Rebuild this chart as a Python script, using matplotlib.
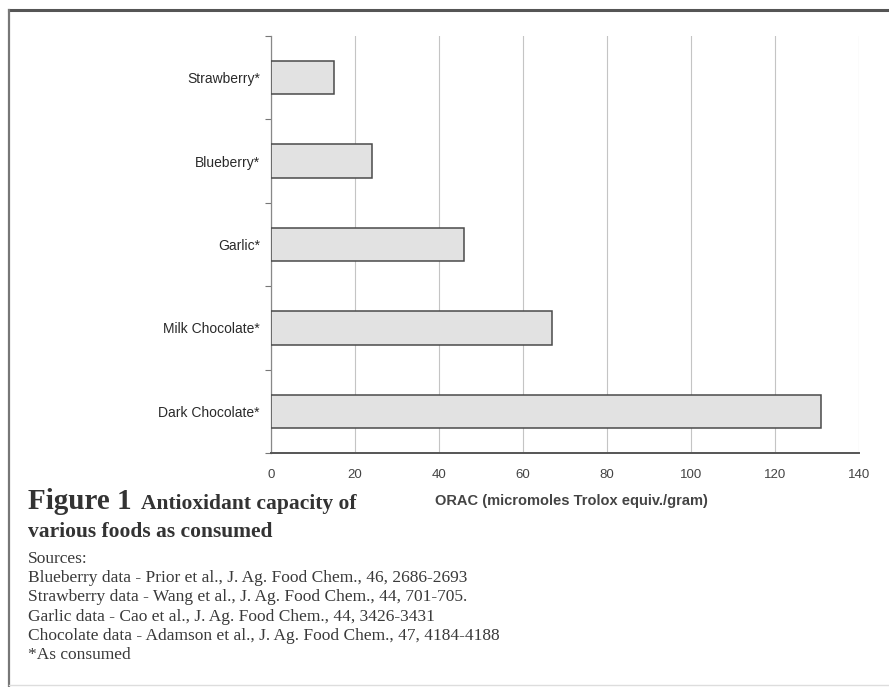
import matplotlib
matplotlib.use("Agg")
import matplotlib.pyplot as plt
import numpy as np

# ORAC per gram of food, as consumed
foods = ["Strawberry*", "Blueberry*", "Garlic*", "Milk Chocolate*", "Dark Chocolate*"]
orac = [15, 24, 46, 67, 131]
xticks = [0, 20, 40, 60, 80, 100, 120, 140]

sources = [
    "Sources:",
    "Blueberry data - Prior et al., J. Ag. Food Chem., 46, 2686-2693",
    "Strawberry data - Wang et al., J. Ag. Food Chem., 44, 701-705.",
    "Garlic data - Cao et al., J. Ag. Food Chem., 44, 3426-3431",
    "Chocolate data - Adamson et al., J. Ag. Food Chem., 47, 4184-4188",
    "*As consumed",
]

W, H = 889, 687
fig = plt.figure(figsize=(W / 100, H / 100), dpi=100)
fig.patch.set_facecolor("white")

ax = fig.add_axes([271 / W, 1 - 453 / H, (859 - 271) / W, (453 - 36) / H])
pos = np.arange(len(foods))
ax.barh(pos, orac, height=0.4, color="#e2e2e2", edgecolor="#4a4a4a", linewidth=1.1, zorder=3)

ax.set_xlim(0, 140)
ax.set_ylim(len(foods) - 0.5, -0.5)
ax.set_xticks(xticks)
ax.set_xticklabels([str(t) for t in xticks], fontsize=9.5, color="#444444", family="Liberation Sans")
ax.tick_params(axis="x", length=0, pad=11.5)
ax.grid(axis="x", color="#c4c4c4", linewidth=0.8, zorder=0)

ax.set_yticks(pos)
ax.set_yticklabels(foods, fontsize=10, color="#2a2a2a", family="Liberation Sans")
ax.tick_params(axis="y", which="major", length=0, pad=8)
ax.set_yticks(np.arange(-0.5, len(foods)), minor=True)
ax.tick_params(axis="y", which="minor", length=4, width=0.8, color="#777777", direction="out")

for s in ["top", "right"]:
    ax.spines[s].set_visible(False)
ax.spines["left"].set_color("#888888")
ax.spines["left"].set_linewidth(0.9)
ax.spines["bottom"].set_color("#555555")
ax.spines["bottom"].set_linewidth(1.4)

ax.set_xlabel("ORAC (micromoles Trolox equiv./gram)", fontsize=10.5, color="#444444",
              family="Liberation Sans", fontweight="bold")
ax.xaxis.set_label_coords((571 - 271) / (859 - 271), -(501 - 453) / (453 - 36))
ax.xaxis.label.set_va("center")

# caption
serif = "Liberation Serif"
fig.text(28 / W, 1 - 509 / H, "Figure 1", fontsize=21, fontweight="bold", family=serif,
         color="#333333", va="baseline")
fig.text(141 / W, 1 - 509 / H, "Antioxidant capacity of", fontsize=15.5, fontweight="bold",
         family=serif, color="#333333", va="baseline")
fig.text(28 / W, 1 - 537 / H, "various foods as consumed", fontsize=15.5, fontweight="bold",
         family=serif, color="#333333", va="baseline")

y0 = 563
for i, line in enumerate(sources):
    fig.text(28 / W, 1 - (y0 + i * 19.2) / H, line, fontsize=12.5, family=serif,
             color="#3a3a3a", va="baseline")

# page frame
fig.add_artist(plt.Line2D([9 / W, 1], [1 - 10 / H, 1 - 10 / H], color="#555555", linewidth=2.2))
fig.add_artist(plt.Line2D([9 / W, 9 / W], [1 - 10 / H, 1 - 686 / H], color="#777777", linewidth=1.6))
fig.add_artist(plt.Line2D([9 / W, 1], [1 - 685 / H, 1 - 685 / H], color="#dddddd", linewidth=1.0))

fig.savefig("out.png", dpi=100)
